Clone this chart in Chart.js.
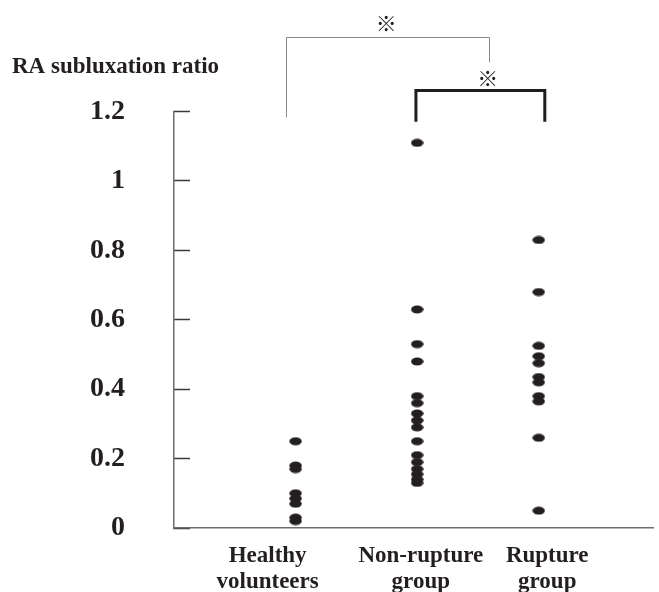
<!DOCTYPE html>
<html>
<head>
<meta charset="utf-8">
<script src="https://cdn.jsdelivr.net/npm/chart.js@4"></script>
<style>
  html, body { margin: 0; padding: 0; background: #fff; overflow: hidden; }
  canvas { display: block; }
</style>
</head>
<body>
<canvas id="c" width="659" height="592" style="width:659px;height:592px"></canvas>
<script>
// ---- data ----
const categories = ['Healthy volunteers', 'Non-rupture group', 'Rupture group'];
const categoryLabelLines = [['Healthy', 'volunteers'], ['Non-rupture', 'group'], ['Rupture', 'group']];
const healthy = [0.25, 0.18, 0.17, 0.10, 0.085, 0.07, 0.03, 0.02];
const nonRupture = [1.11, 0.63, 0.53, 0.48, 0.38, 0.36, 0.33, 0.31, 0.29, 0.25, 0.21, 0.19, 0.17, 0.155, 0.14, 0.13];
const rupture = [0.83, 0.68, 0.525, 0.495, 0.475, 0.435, 0.42, 0.38, 0.365, 0.26, 0.05];
const yTickLabels = ['0', '0.2', '0.4', '0.6', '0.8', '1', '1.2'];
const yAxisTitle = 'RA subluxation ratio';
const significanceMark = '\u203B';

// ---- marker (elliptical dot) ----
function makeDot() {
  const c = document.createElement('canvas');
  c.width = 13; c.height = 9;
  const g = c.getContext('2d');
  g.fillStyle = '#231f20';
  g.beginPath();
  g.ellipse(6.5, 4.5, 6.2, 4.0, 0, 0, Math.PI * 2);
  g.fill();
  return c;
}
const dot = makeDot();

const groups = [healthy, nonRupture, rupture];
const datasets = groups.map((vals, gi) => ({
  label: categories[gi],
  data: vals.map(v => ({ x: gi + 1, y: v })),
  pointStyle: dot,
  pointRadius: 5,
  backgroundColor: '#231f20',
  borderColor: '#231f20'
}));

// label anchor shifts relative to group centre (layout only)
const labelShift = [-0.23, 0.03, 0.07];

const bracketPlugin = {
  id: 'brackets',
  afterDraw(chart) {
    const x = chart.scales.x, y = chart.scales.y, ctx = chart.ctx;
    const X = v => x.getPixelForValue(v), Y = v => y.getPixelForValue(v);
    ctx.save();
    // thin bracket
    ctx.strokeStyle = '#8a8a8a';
    ctx.lineWidth = 1;
    ctx.beginPath();
    ctx.moveTo(Math.round(X(0.92)) + 0.5, Y(1.183));
    ctx.lineTo(Math.round(X(0.92)) + 0.5, Math.round(Y(1.414)) + 0.5);
    ctx.lineTo(Math.round(X(2.595)) + 0.5, Math.round(Y(1.414)) + 0.5);
    ctx.lineTo(Math.round(X(2.595)) + 0.5, Y(1.342));
    ctx.stroke();
    // thick bracket
    ctx.strokeStyle = '#1e1e1e';
    ctx.lineWidth = 3;
    ctx.lineJoin = 'miter';
    ctx.beginPath();
    ctx.moveTo(X(1.99), Y(1.171));
    ctx.lineTo(X(1.99), Y(1.261));
    ctx.lineTo(X(3.05), Y(1.261));
    ctx.lineTo(X(3.05), Y(1.171));
    ctx.stroke();
    // marks
    ctx.fillStyle = '#1e1e1e';
    ctx.font = '21px "Noto Sans CJK JP"';
    ctx.textAlign = 'center';
    ctx.textBaseline = 'middle';
    ctx.fillText(significanceMark, X(1.745), Y(1.455));
    ctx.fillText(significanceMark, X(2.58), Y(1.298));
    ctx.restore();
  }
};

new Chart(document.getElementById('c'), {
  type: 'scatter',
  data: { datasets },
  options: {
    responsive: false,
    animation: false,
    layout: { padding: { left: 12, right: 2, top: 0, bottom: 0 } },
    plugins: {
      legend: { display: false },
      tooltip: { enabled: false },
      title: {
        display: true,
        text: yAxisTitle,
        align: 'start',
        color: '#231f20',
        font: { family: '"Liberation Serif"', weight: 'bold', size: 23 },
        padding: { top: 53, bottom: 31 }
      }
    },
    scales: {
      x: {
        type: 'linear',
        min: 0,
        max: 3.94,
        afterBuildTicks(scale) {
          scale.ticks = categoryLabelLines.map((_, i) => ({ value: i + 1 + labelShift[i] }));
        },
        afterFit(scale) { scale.height = 64; scale.paddingLeft = 0; scale.paddingRight = 0; },
        ticks: {
          autoSkip: false,
          maxRotation: 0,
          padding: 7,
          color: '#231f20',
          font: { family: '"Liberation Serif"', weight: 'bold', size: 23, lineHeight: 1.12 },
          callback: (v, i) => categoryLabelLines[i]
        },
        grid: { display: false },
        border: { display: true, color: '#6e6e6e', width: 1.5 }
      },
      y: {
        min: 0,
        max: 1.2,
        afterBuildTicks(scale) {
          scale.ticks = yTickLabels.map(t => ({ value: parseFloat(t) }));
        },
        afterFit(scale) { scale.width = 162; scale.paddingTop = 10; scale.paddingBottom = 10; },
        ticks: {
          padding: 65,
          color: '#231f20',
          font: { family: '"Liberation Serif"', weight: 'bold', size: 28 },
          callback: (v, i) => yTickLabels[i]
        },
        grid: {
          display: true,
          drawOnChartArea: false,
          drawTicks: true,
          tickLength: -16,
          tickColor: '#3a3a3a',
          tickWidth: 1.5
        },
        border: { display: true, color: '#6e6e6e', width: 1.5 }
      }
    }
  },
  plugins: [bracketPlugin]
});
</script>
</body>
</html>
